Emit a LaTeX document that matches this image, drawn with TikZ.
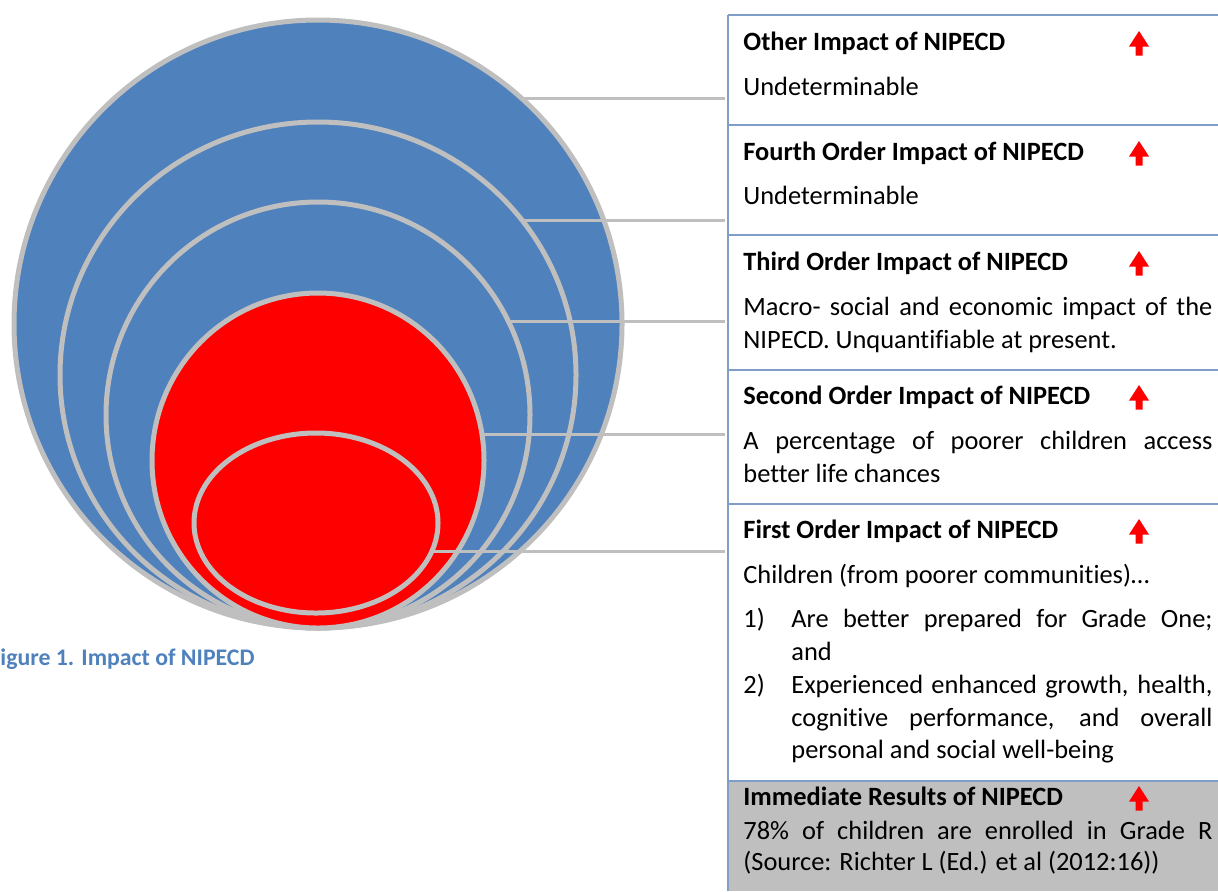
\documentclass[tikz,border=0pt]{standalone}
\usepackage{fontspec}
\setmainfont{Carlito}[Ligatures=NoCommon]
\usetikzlibrary{shapes.geometric}
\definecolor{ringblue}{HTML}{4F81BD}
\definecolor{ringgray}{HTML}{BFBFBF}
\definecolor{panelline}{HTML}{7F9DC6}
\definecolor{resultgray}{HTML}{BFBFBF}
\begin{document}
\begin{tikzpicture}[x=0.5pt,y=-0.5pt,
  ring/.style={ellipse, draw=ringgray, line width=2.5pt, inner sep=0pt, outer sep=0pt},
  link/.style={draw=ringgray, line width=1.5pt},
  sepline/.style={draw=panelline, line width=0.8pt},
  title/.style={anchor=base west, inner sep=0pt, font=\fontsize{13.2}{16}\selectfont\bfseries},
  body/.style={anchor=base west, inner sep=0pt, font=\fontsize{13.2}{16}\selectfont},
  caption/.style={anchor=base west, inner sep=0pt, text=ringblue, font=\fontsize{11.9}{14}\selectfont\bfseries},
  uparrow/.pic={\fill[red] (0,-19) -- (10,-3.5) -- (3.5,-3.5) -- (3.5,5.5) -- (-3.5,5.5) -- (-3.5,-3.5) -- (-10,-3.5) -- cycle;},
]
\useasboundingbox (0,0) rectangle (1218,891);

% rings
\node[ring, fill=ringblue, minimum width=304pt, minimum height=304pt] (c1) at (318,324) {};
\node[ring, fill=ringblue, minimum width=258pt, minimum height=253pt] (c2) at (318,375) {};
\node[ring, fill=ringblue, minimum width=212pt, minimum height=213pt] (c3) at (318,415) {};
\node[ring, fill=red, minimum width=166pt, minimum height=167.5pt] (c4) at (318,460.5) {};
\node[ring, fill=red, minimum width=122pt, minimum height=90pt] (c5) at (316,523) {};

% panel
\fill[resultgray] (728,781) rectangle (1218,891);
\coordinate (ptop) at (728,15);
\coordinate (pbot) at (728,891);
\draw[sepline] (ptop) -- (pbot);
\foreach \yy in {15,125,235,370,504,781} {\draw[sepline] (728,\yy) -- (1218,\yy);}

% connectors
\coordinate (k1) at (725,98);
\coordinate (k2) at (725,219);
\coordinate (k3) at (725,322);
\coordinate (k4) at (725,435);
\coordinate (k5) at (725,552);
\draw[link] (c1.48) -- (c1.48 -| k1);
\draw[link] (c2.37) -- (c2.37 -| k2);
\draw[link] (c3.26) -- (c3.26 -| k3);
\draw[link] (c4.9) -- (c4.9 -| k4);
\draw[link] (c5.-14) -- (c5.-14 -| k5);

% texts
\node[title] (t1) at (743,50) {Other Impact of NIPECD};
\node[body] (b1) at (743,95.5) {Undeterminable};
\node[title] (t2) at (743,160) {Fourth Order Impact of NIPECD};
\node[body] (b2) at (743,204) {Undeterminable};
\node[title] (t3) at (743,270) {Third Order Impact of NIPECD};
\node[body] (b3a) at (743,315) {\makebox[234.5pt][s]{Macro- social and economic impact of the}};
\node[body] (b3b) at (743,348) {NIPECD. Unquantifiable at present.};
\node[title] (t4) at (743,404) {Second Order Impact of NIPECD};
\node[body] (b4a) at (743,449) {\makebox[234.5pt][s]{A percentage of poorer children access}};
\node[body] (b4b) at (743,482) {better life chances};
\node[title] (t5) at (743,538) {First Order Impact of NIPECD};
\node[body] (b5a) at (743,583) {Children (from poorer communities)…};
\node[body] (n1) at (743,627) {1)};
\node[body] (l1a) at (791,627) {\makebox[210.5pt][s]{Are better prepared for Grade One;}};
\node[body] (l1b) at (791,660) {and};
\node[body] (n2) at (743,693) {2)};
\node[body] (l2a) at (791,693) {\makebox[210.5pt][s]{Experienced enhanced growth, health,}};
\node[body] (l2b) at (791,726) {\makebox[210.5pt][s]{cognitive performance, and overall}};
\node[body] (l2c) at (791,758) {personal and social well-being};
\node[title] (t6) at (743,805) {Immediate Results of NIPECD};
\node[body] (b6a) at (743,839) {\makebox[234.5pt][s]{78\% of children are enrolled in Grade R}};
\node[body] (b6b) at (743,870) {(Source: Richter L (Ed.) et al (2012:16))};

% arrows
\foreach \yy in {50,160,270,404,538,805} {\pic at (1139,\yy) {uparrow};}

% caption
\node[caption] (cap) at (0,665) {igure 1. Impact of NIPECD};
\end{tikzpicture}
\end{document}
